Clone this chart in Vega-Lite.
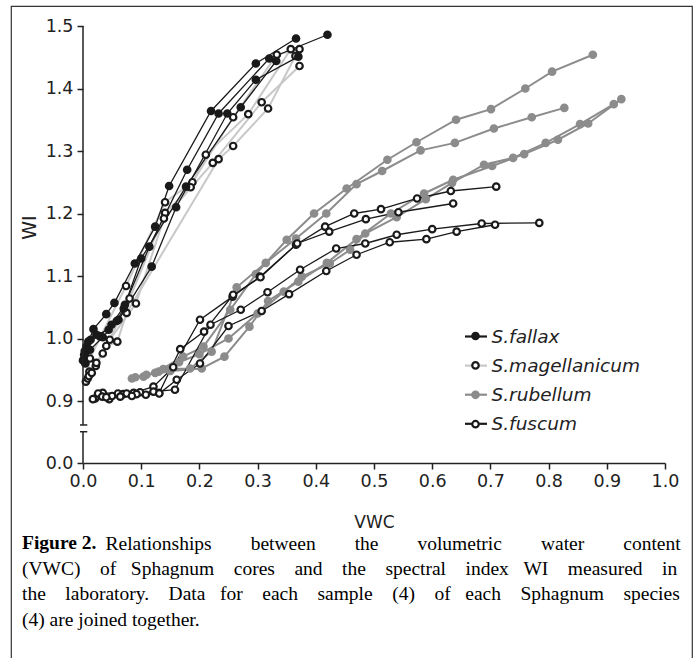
{
  "$schema": "https://vega.github.io/schema/vega-lite/v6.json",
  "width": 681,
  "height": 652,
  "autosize": {"type": "none"},
  "padding": {"left": 11, "top": 6, "right": 7, "bottom": 0},
  "background": "white",
  "config": {"view": {"stroke": "#333", "strokeWidth": 1.2, "strokeDash": [1333, 681, 652, 0]}},
  "resolve": {"axis": {"x": "independent"}},
  "title": {
    "text": "Figure 2.",
    "subtitle": [
      "(VWC)\u00a0\u00a0\u00a0\u00a0of\u00a0\u00a0\u00a0Sphagnum\u00a0\u00a0\u00a0\u00a0cores\u00a0\u00a0\u00a0\u00a0and\u00a0\u00a0\u00a0\u00a0the\u00a0\u00a0\u00a0\u00a0spectral\u00a0\u00a0\u00a0\u00a0index\u00a0\u00a0\u00a0WI\u00a0\u00a0\u00a0\u00a0measured\u00a0\u00a0\u00a0\u00a0in",
      "the\u00a0\u00a0\u00a0\u00a0laboratory.\u00a0\u00a0\u00a0\u00a0Data\u00a0\u00a0\u00a0for\u00a0\u00a0\u00a0\u00a0each\u00a0\u00a0\u00a0\u00a0sample\u00a0\u00a0\u00a0\u00a0(4)\u00a0\u00a0\u00a0\u00a0of\u00a0\u00a0\u00a0each\u00a0\u00a0\u00a0\u00a0Sphagnum\u00a0\u00a0\u00a0\u00a0species",
      "(4) are joined together."
    ],
    "orient": "bottom",
    "anchor": "start",
    "frame": "group",
    "offset": -124,
    "dx": 11,
    "limit": 0,
    "font": "Liberation Serif",
    "fontSize": 19.5,
    "fontWeight": "bold",
    "color": "#000",
    "subtitleFont": "Liberation Serif",
    "subtitleFontSize": 19.5,
    "subtitleFontWeight": "normal",
    "subtitleColor": "#000",
    "subtitleLineHeight": 25.5,
    "subtitlePadding": 6
  },
  "data": {
    "values": [
      {"s":"r1","sp":"S.rubellum","x":0.084,"y":0.936},{"s":"r1","sp":"S.rubellum","x":0.124,"y":0.945},{"s":"r1","sp":"S.rubellum","x":0.172,"y":0.971},{"s":"r1","sp":"S.rubellum","x":0.207,"y":0.987},{"s":"r1","sp":"S.rubellum","x":0.253,"y":1.046},{"s":"r1","sp":"S.rubellum","x":0.297,"y":1.103},{"s":"r1","sp":"S.rubellum","x":0.350,"y":1.158},{"s":"r1","sp":"S.rubellum","x":0.397,"y":1.200},{"s":"r1","sp":"S.rubellum","x":0.453,"y":1.240},{"s":"r1","sp":"S.rubellum","x":0.523,"y":1.286},{"s":"r1","sp":"S.rubellum","x":0.573,"y":1.314},{"s":"r1","sp":"S.rubellum","x":0.641,"y":1.350},{"s":"r1","sp":"S.rubellum","x":0.701,"y":1.367},{"s":"r1","sp":"S.rubellum","x":0.760,"y":1.400},{"s":"r1","sp":"S.rubellum","x":0.806,"y":1.427},{"s":"r1","sp":"S.rubellum","x":0.876,"y":1.454},
      {"s":"r2","sp":"S.rubellum","x":0.104,"y":0.939},{"s":"r2","sp":"S.rubellum","x":0.138,"y":0.951},{"s":"r2","sp":"S.rubellum","x":0.184,"y":0.952},{"s":"r2","sp":"S.rubellum","x":0.221,"y":0.979},{"s":"r2","sp":"S.rubellum","x":0.264,"y":1.082},{"s":"r2","sp":"S.rubellum","x":0.314,"y":1.121},{"s":"r2","sp":"S.rubellum","x":0.366,"y":1.160},{"s":"r2","sp":"S.rubellum","x":0.418,"y":1.200},{"s":"r2","sp":"S.rubellum","x":0.470,"y":1.247},{"s":"r2","sp":"S.rubellum","x":0.514,"y":1.268},{"s":"r2","sp":"S.rubellum","x":0.580,"y":1.301},{"s":"r2","sp":"S.rubellum","x":0.639,"y":1.313},{"s":"r2","sp":"S.rubellum","x":0.706,"y":1.336},{"s":"r2","sp":"S.rubellum","x":0.771,"y":1.354},{"s":"r2","sp":"S.rubellum","x":0.827,"y":1.369},
      {"s":"r3","sp":"S.rubellum","x":0.109,"y":0.942},{"s":"r3","sp":"S.rubellum","x":0.150,"y":0.948},{"s":"r3","sp":"S.rubellum","x":0.204,"y":0.952},{"s":"r3","sp":"S.rubellum","x":0.243,"y":0.971},{"s":"r3","sp":"S.rubellum","x":0.286,"y":1.019},{"s":"r3","sp":"S.rubellum","x":0.318,"y":1.060},{"s":"r3","sp":"S.rubellum","x":0.370,"y":1.091},{"s":"r3","sp":"S.rubellum","x":0.419,"y":1.121},{"s":"r3","sp":"S.rubellum","x":0.470,"y":1.159},{"s":"r3","sp":"S.rubellum","x":0.529,"y":1.200},{"s":"r3","sp":"S.rubellum","x":0.586,"y":1.232},{"s":"r3","sp":"S.rubellum","x":0.636,"y":1.254},{"s":"r3","sp":"S.rubellum","x":0.703,"y":1.276},{"s":"r3","sp":"S.rubellum","x":0.758,"y":1.295},{"s":"r3","sp":"S.rubellum","x":0.816,"y":1.318},{"s":"r3","sp":"S.rubellum","x":0.868,"y":1.344},{"s":"r3","sp":"S.rubellum","x":0.925,"y":1.383},
      {"s":"r4","sp":"S.rubellum","x":0.090,"y":0.938},{"s":"r4","sp":"S.rubellum","x":0.130,"y":0.947},{"s":"r4","sp":"S.rubellum","x":0.165,"y":0.962},{"s":"r4","sp":"S.rubellum","x":0.200,"y":0.975},{"s":"r4","sp":"S.rubellum","x":0.250,"y":1.000},{"s":"r4","sp":"S.rubellum","x":0.300,"y":1.040},{"s":"r4","sp":"S.rubellum","x":0.345,"y":1.075},{"s":"r4","sp":"S.rubellum","x":0.376,"y":1.099},{"s":"r4","sp":"S.rubellum","x":0.424,"y":1.120},{"s":"r4","sp":"S.rubellum","x":0.459,"y":1.142},{"s":"r4","sp":"S.rubellum","x":0.485,"y":1.168},{"s":"r4","sp":"S.rubellum","x":0.539,"y":1.194},{"s":"r4","sp":"S.rubellum","x":0.589,"y":1.223},{"s":"r4","sp":"S.rubellum","x":0.634,"y":1.249},{"s":"r4","sp":"S.rubellum","x":0.689,"y":1.278},{"s":"r4","sp":"S.rubellum","x":0.739,"y":1.289},{"s":"r4","sp":"S.rubellum","x":0.795,"y":1.313},{"s":"r4","sp":"S.rubellum","x":0.854,"y":1.343},{"s":"r4","sp":"S.rubellum","x":0.912,"y":1.375},
      {"s":"m1","sp":"S.magellanicum","x":0.005,"y":0.931},{"s":"m1","sp":"S.magellanicum","x":0.012,"y":0.968},{"s":"m1","sp":"S.magellanicum","x":0.030,"y":1.003},{"s":"m1","sp":"S.magellanicum","x":0.074,"y":1.084},{"s":"m1","sp":"S.magellanicum","x":0.141,"y":1.218},{"s":"m1","sp":"S.magellanicum","x":0.188,"y":1.250},{"s":"m1","sp":"S.magellanicum","x":0.258,"y":1.354},{"s":"m1","sp":"S.magellanicum","x":0.333,"y":1.454},{"s":"m1","sp":"S.magellanicum","x":0.372,"y":1.463},
      {"s":"m2","sp":"S.magellanicum","x":0.008,"y":0.936},{"s":"m2","sp":"S.magellanicum","x":0.011,"y":0.947},{"s":"m2","sp":"S.magellanicum","x":0.034,"y":0.976},{"s":"m2","sp":"S.magellanicum","x":0.080,"y":1.064},{"s":"m2","sp":"S.magellanicum","x":0.141,"y":1.201},{"s":"m2","sp":"S.magellanicum","x":0.185,"y":1.242},{"s":"m2","sp":"S.magellanicum","x":0.211,"y":1.294},{"s":"m2","sp":"S.magellanicum","x":0.284,"y":1.359},{"s":"m2","sp":"S.magellanicum","x":0.357,"y":1.463},
      {"s":"m3","sp":"S.magellanicum","x":0.010,"y":0.940},{"s":"m3","sp":"S.magellanicum","x":0.022,"y":0.956},{"s":"m3","sp":"S.magellanicum","x":0.046,"y":0.998},{"s":"m3","sp":"S.magellanicum","x":0.091,"y":1.056},{"s":"m3","sp":"S.magellanicum","x":0.139,"y":1.192},{"s":"m3","sp":"S.magellanicum","x":0.223,"y":1.281},{"s":"m3","sp":"S.magellanicum","x":0.307,"y":1.378},{"s":"m3","sp":"S.magellanicum","x":0.372,"y":1.436},
      {"s":"m4","sp":"S.magellanicum","x":0.015,"y":0.945},{"s":"m4","sp":"S.magellanicum","x":0.023,"y":0.961},{"s":"m4","sp":"S.magellanicum","x":0.040,"y":0.988},{"s":"m4","sp":"S.magellanicum","x":0.059,"y":0.995},{"s":"m4","sp":"S.magellanicum","x":0.075,"y":1.041},{"s":"m4","sp":"S.magellanicum","x":0.233,"y":1.287},{"s":"m4","sp":"S.magellanicum","x":0.258,"y":1.308},{"s":"m4","sp":"S.magellanicum","x":0.318,"y":1.368},{"s":"m4","sp":"S.magellanicum","x":0.365,"y":1.452},
      {"s":"f1","sp":"S.fallax","x":0.000,"y":0.965},{"s":"f1","sp":"S.fallax","x":0.006,"y":0.987},{"s":"f1","sp":"S.fallax","x":0.018,"y":1.015},{"s":"f1","sp":"S.fallax","x":0.040,"y":1.039},{"s":"f1","sp":"S.fallax","x":0.054,"y":1.057},{"s":"f1","sp":"S.fallax","x":0.089,"y":1.120},{"s":"f1","sp":"S.fallax","x":0.124,"y":1.179},{"s":"f1","sp":"S.fallax","x":0.148,"y":1.244},{"s":"f1","sp":"S.fallax","x":0.220,"y":1.364},{"s":"f1","sp":"S.fallax","x":0.297,"y":1.440},{"s":"f1","sp":"S.fallax","x":0.366,"y":1.480},
      {"s":"f2","sp":"S.fallax","x":0.002,"y":0.974},{"s":"f2","sp":"S.fallax","x":0.009,"y":0.995},{"s":"f2","sp":"S.fallax","x":0.023,"y":1.006},{"s":"f2","sp":"S.fallax","x":0.044,"y":1.014},{"s":"f2","sp":"S.fallax","x":0.072,"y":1.054},{"s":"f2","sp":"S.fallax","x":0.114,"y":1.147},{"s":"f2","sp":"S.fallax","x":0.179,"y":1.270},{"s":"f2","sp":"S.fallax","x":0.233,"y":1.360},{"s":"f2","sp":"S.fallax","x":0.320,"y":1.448},{"s":"f2","sp":"S.fallax","x":0.420,"y":1.486},
      {"s":"f3","sp":"S.fallax","x":0.003,"y":0.980},{"s":"f3","sp":"S.fallax","x":0.013,"y":0.998},{"s":"f3","sp":"S.fallax","x":0.028,"y":1.004},{"s":"f3","sp":"S.fallax","x":0.049,"y":1.022},{"s":"f3","sp":"S.fallax","x":0.061,"y":1.030},{"s":"f3","sp":"S.fallax","x":0.118,"y":1.115},{"s":"f3","sp":"S.fallax","x":0.160,"y":1.210},{"s":"f3","sp":"S.fallax","x":0.248,"y":1.360},{"s":"f3","sp":"S.fallax","x":0.297,"y":1.414},{"s":"f3","sp":"S.fallax","x":0.370,"y":1.451},
      {"s":"f4","sp":"S.fallax","x":0.004,"y":0.960},{"s":"f4","sp":"S.fallax","x":0.012,"y":0.982},{"s":"f4","sp":"S.fallax","x":0.034,"y":1.002},{"s":"f4","sp":"S.fallax","x":0.058,"y":1.028},{"s":"f4","sp":"S.fallax","x":0.070,"y":1.048},{"s":"f4","sp":"S.fallax","x":0.100,"y":1.128},{"s":"f4","sp":"S.fallax","x":0.177,"y":1.243},{"s":"f4","sp":"S.fallax","x":0.271,"y":1.370},{"s":"f4","sp":"S.fallax","x":0.332,"y":1.444},
      {"s":"u1","sp":"S.fuscum","x":0.021,"y":0.904},{"s":"u1","sp":"S.fuscum","x":0.034,"y":0.913},{"s":"u1","sp":"S.fuscum","x":0.060,"y":0.912},{"s":"u1","sp":"S.fuscum","x":0.087,"y":0.913},{"s":"u1","sp":"S.fuscum","x":0.121,"y":0.923},{"s":"u1","sp":"S.fuscum","x":0.155,"y":0.954},{"s":"u1","sp":"S.fuscum","x":0.201,"y":1.030},{"s":"u1","sp":"S.fuscum","x":0.257,"y":1.067},{"s":"u1","sp":"S.fuscum","x":0.304,"y":1.099},{"s":"u1","sp":"S.fuscum","x":0.366,"y":1.150},{"s":"u1","sp":"S.fuscum","x":0.416,"y":1.179},{"s":"u1","sp":"S.fuscum","x":0.466,"y":1.200},{"s":"u1","sp":"S.fuscum","x":0.512,"y":1.207},{"s":"u1","sp":"S.fuscum","x":0.574,"y":1.224},{"s":"u1","sp":"S.fuscum","x":0.632,"y":1.236},{"s":"u1","sp":"S.fuscum","x":0.710,"y":1.243},
      {"s":"u2","sp":"S.fuscum","x":0.026,"y":0.912},{"s":"u2","sp":"S.fuscum","x":0.045,"y":0.903},{"s":"u2","sp":"S.fuscum","x":0.069,"y":0.911},{"s":"u2","sp":"S.fuscum","x":0.098,"y":0.914},{"s":"u2","sp":"S.fuscum","x":0.131,"y":0.913},{"s":"u2","sp":"S.fuscum","x":0.167,"y":0.983},{"s":"u2","sp":"S.fuscum","x":0.208,"y":1.011},{"s":"u2","sp":"S.fuscum","x":0.258,"y":1.070},{"s":"u2","sp":"S.fuscum","x":0.305,"y":1.098},{"s":"u2","sp":"S.fuscum","x":0.368,"y":1.152},{"s":"u2","sp":"S.fuscum","x":0.423,"y":1.171},{"s":"u2","sp":"S.fuscum","x":0.486,"y":1.191},{"s":"u2","sp":"S.fuscum","x":0.542,"y":1.202},{"s":"u2","sp":"S.fuscum","x":0.636,"y":1.216},
      {"s":"u3","sp":"S.fuscum","x":0.033,"y":0.907},{"s":"u3","sp":"S.fuscum","x":0.050,"y":0.908},{"s":"u3","sp":"S.fuscum","x":0.075,"y":0.912},{"s":"u3","sp":"S.fuscum","x":0.092,"y":0.911},{"s":"u3","sp":"S.fuscum","x":0.121,"y":0.915},{"s":"u3","sp":"S.fuscum","x":0.158,"y":0.918},{"s":"u3","sp":"S.fuscum","x":0.219,"y":1.022},{"s":"u3","sp":"S.fuscum","x":0.271,"y":1.046},{"s":"u3","sp":"S.fuscum","x":0.317,"y":1.074},{"s":"u3","sp":"S.fuscum","x":0.373,"y":1.110},{"s":"u3","sp":"S.fuscum","x":0.435,"y":1.144},{"s":"u3","sp":"S.fuscum","x":0.485,"y":1.152},{"s":"u3","sp":"S.fuscum","x":0.539,"y":1.166},{"s":"u3","sp":"S.fuscum","x":0.600,"y":1.175},{"s":"u3","sp":"S.fuscum","x":0.685,"y":1.184},{"s":"u3","sp":"S.fuscum","x":0.784,"y":1.185},
      {"s":"u4","sp":"S.fuscum","x":0.017,"y":0.903},{"s":"u4","sp":"S.fuscum","x":0.040,"y":0.906},{"s":"u4","sp":"S.fuscum","x":0.064,"y":0.907},{"s":"u4","sp":"S.fuscum","x":0.084,"y":0.908},{"s":"u4","sp":"S.fuscum","x":0.108,"y":0.910},{"s":"u4","sp":"S.fuscum","x":0.131,"y":0.912},{"s":"u4","sp":"S.fuscum","x":0.161,"y":0.934},{"s":"u4","sp":"S.fuscum","x":0.201,"y":0.960},{"s":"u4","sp":"S.fuscum","x":0.250,"y":1.020},{"s":"u4","sp":"S.fuscum","x":0.307,"y":1.044},{"s":"u4","sp":"S.fuscum","x":0.354,"y":1.071},{"s":"u4","sp":"S.fuscum","x":0.418,"y":1.108},{"s":"u4","sp":"S.fuscum","x":0.470,"y":1.134},{"s":"u4","sp":"S.fuscum","x":0.527,"y":1.154},{"s":"u4","sp":"S.fuscum","x":0.590,"y":1.159},{"s":"u4","sp":"S.fuscum","x":0.642,"y":1.171},{"s":"u4","sp":"S.fuscum","x":0.708,"y":1.182}
    ]
  },
  "layer": [
    {
      "transform": [{"filter": {"field": "sp", "oneOf": ["S.magellanicum", "S.rubellum"]}}],
      "mark": {"type": "line", "strokeWidth": 2},
      "encoding": {
        "x": {"field": "x", "type": "quantitative",
          "scale": {"domain": [0, 1], "range": [72, 654], "nice": false, "zero": false},
          "axis": {"orient": "bottom", "offset": -195, "values": [0, 0.1, 0.2, 0.3, 0.4, 0.5, 0.6, 0.7, 0.8, 0.9, 1.0], "format": ".1f", "grid": false,
            "domain": true, "domainColor": "#222", "domainWidth": 1.5, "tickSize": 6, "tickWidth": 1.5, "tickColor": "#222",
            "labelFont": "DejaVu Sans", "labelFontSize": 17.5, "labelColor": "#222", "labelPadding": 3, "labelFlush": false, "labelOverlap": false,
            "title": "VWC", "titleFont": "DejaVu Sans", "titleFontSize": 17, "titleFontWeight": "normal", "titleColor": "#222", "titleY": 59, "titleBaseline": "middle"}},
        "y": {"field": "y", "type": "quantitative",
          "scale": {"domain": [0, 0.9, 1.5], "range": [457, 395, 20], "nice": false, "zero": false},
          "axis": {"orient": "left", "offset": -72, "values": [0, 0.9, 1.0, 1.1, 1.2, 1.3, 1.4, 1.5], "format": ".1f", "grid": false,
            "domain": false, "tickSize": 6, "tickWidth": 1.5, "tickColor": "#222",
            "labelFont": "DejaVu Sans", "labelFontSize": 17.5, "labelColor": "#222", "labelPadding": 4, "labelOverlap": false,
            "title": "WI", "titleFont": "DejaVu Sans", "titleFontSize": 19, "titleFontWeight": "normal", "titleColor": "#222",
            "titleX": -54, "titleY": 221, "titleAngle": -90, "titleAlign": "center", "titleBaseline": "middle"}},
        "color": {"field": "sp", "type": "nominal",
          "scale": {"domain": ["S.fallax", "S.magellanicum", "S.rubellum", "S.fuscum"], "range": ["#1a1a1a", "#c8c8c8", "#8c8c8c", "#1a1a1a"]},
          "legend": {"orient": "none", "legendX": 452.5, "legendY": 318, "title": null, "padding": 0,
            "symbolType": "stroke", "symbolSize": 484, "symbolStrokeWidth": 2.2,
            "labelFont": "DejaVu Sans", "labelFontStyle": "italic", "labelFontSize": 18.5, "labelColor": "#222", "labelOffset": 3, "labelLimit": 300, "rowPadding": 7.1}},
        "detail": {"field": "s"}
      }
    },
    {
      "transform": [{"filter": {"field": "sp", "oneOf": ["S.fallax", "S.fuscum"]}}],
      "mark": {"type": "line", "strokeWidth": 1.3},
      "encoding": {
        "x": {"field": "x", "type": "quantitative", "axis": null},
        "y": {"field": "y", "type": "quantitative"},
        "color": {"field": "sp", "type": "nominal", "legend": null},
        "detail": {"field": "s"}
      }
    },
    {
      "transform": [{"lookup": "sp", "from": {"data": {"values": [{"sp": "S.fallax", "k": "1"}, {"sp": "S.magellanicum", "k": "2"}, {"sp": "S.rubellum", "k": "3"}, {"sp": "S.fuscum", "k": "4"}]}, "key": "sp", "fields": ["k"]}}],
      "mark": {"type": "point", "shape": "circle", "filled": true, "size": 42, "strokeWidth": 2.2, "opacity": 1},
      "encoding": {
        "x": {"field": "x", "type": "quantitative", "axis": null},
        "y": {"field": "y", "type": "quantitative"},
        "fill": {"field": "k", "type": "nominal",
          "scale": {"domain": ["1", "2", "3", "4"], "range": ["#1a1a1a", "#ffffff", "#8c8c8c", "#ffffff"]},
          "legend": {"orient": "none", "legendX": 455.25, "legendY": 320.75, "title": null, "padding": 0,
            "symbolType": "circle", "symbolSize": 42, "symbolStrokeWidth": 2.2,
            "labelFont": "DejaVu Sans", "labelFontSize": 18.5, "labelOpacity": 0, "labelExpr": "''", "rowPadding": 10.4}},
        "stroke": {"field": "k", "type": "nominal",
          "scale": {"domain": ["1", "2", "3", "4"], "range": ["#1a1a1a", "#1a1a1a", "#8c8c8c", "#1a1a1a"]},
          "legend": {"orient": "none", "legendX": 455.25, "legendY": 320.75, "title": null, "padding": 0,
            "symbolType": "circle", "symbolSize": 42, "symbolStrokeWidth": 2.2,
            "labelFont": "DejaVu Sans", "labelFontSize": 18.5, "labelOpacity": 0, "labelExpr": "''", "rowPadding": 10.4}}
      }
    },
    {
      "data": {"values": [{}]},
      "mark": {"type": "rule", "color": "#222", "strokeWidth": 1.5},
      "encoding": {
        "x": {"datum": 0, "type": "quantitative", "axis": null},
        "y": {"datum": 0, "type": "quantitative"},
        "y2": {"datum": 0.454}
      }
    },
    {
      "data": {"values": [{}]},
      "mark": {"type": "rule", "color": "#222", "strokeWidth": 1.5},
      "encoding": {
        "x": {"datum": 0, "type": "quantitative", "axis": null},
        "y": {"datum": 0.552, "type": "quantitative"},
        "y2": {"datum": 1.5}
      }
    },
    {
      "data": {"values": [{}]},
      "mark": {"type": "rule", "color": "#222", "strokeWidth": 1.5},
      "encoding": {
        "x": {"datum": -0.0052, "type": "quantitative", "axis": null},
        "x2": {"datum": 0.0074},
        "y": {"datum": 0.454, "type": "quantitative"}
      }
    },
    {
      "data": {"values": [{}]},
      "mark": {"type": "rule", "color": "#222", "strokeWidth": 1.5},
      "encoding": {
        "x": {"datum": -0.0052, "type": "quantitative",
          "axis": {"orient": "top", "domain": false, "ticks": false, "labels": false, "grid": false,
            "title": "Relationships\u00a0\u00a0\u00a0\u00a0\u00a0\u00a0\u00a0\u00a0between\u00a0\u00a0\u00a0\u00a0\u00a0\u00a0\u00a0\u00a0the\u00a0\u00a0\u00a0\u00a0\u00a0\u00a0\u00a0\u00a0volumetric\u00a0\u00a0\u00a0\u00a0\u00a0\u00a0\u00a0\u00a0water\u00a0\u00a0\u00a0\u00a0\u00a0\u00a0\u00a0\u00a0content",
            "titleFont": "Liberation Serif", "titleFontSize": 19.5, "titleFontWeight": "normal", "titleColor": "#000",
            "titleX": 94, "titleY": 528.6, "titleAlign": "left", "titleBaseline": "top", "titleAngle": 0, "titleLimit": 0}},
        "x2": {"datum": 0.0074},
        "y": {"datum": 0.552, "type": "quantitative"}
      }
    }
  ]
}
